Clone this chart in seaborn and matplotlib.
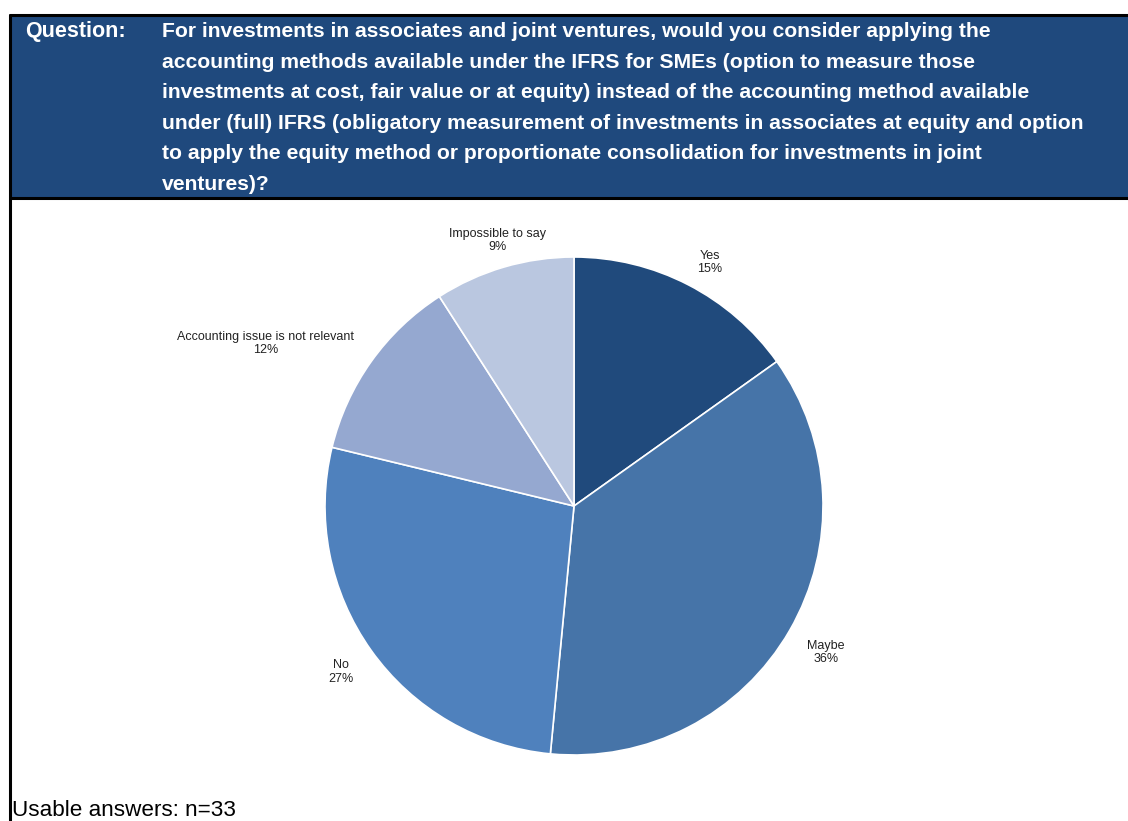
import numpy as np
import matplotlib
matplotlib.use("Agg")
import matplotlib.pyplot as plt
from matplotlib.patches import Rectangle
from matplotlib.lines import Line2D
import seaborn as sns

sns.set_theme(style="white")
plt.rcParams["font.family"] = ["Liberation Sans", "DejaVu Sans"]

# Survey answers (counts out of n=33)
categories = ["Yes", "Maybe", "No", "Accounting issue is not relevant", "Impossible to say"]
counts = [5, 12, 9, 4, 3]
colors = ["#204A7C", "#4674A8", "#4F81BD", "#95A8D0", "#BAC7E0"]
# label placement: radial distance and angular nudge (degrees) from wedge middle
label_dist = [1.12, 1.17, 1.15, 1.40, 1.11]
label_nudge = [-1.8, -0.2, 0.0, 7.7, -0.4]

question = ("For investments in associates and joint ventures, would you consider applying the\n"
            "accounting methods available under the IFRS for SMEs (option to measure those\n"
            "investments at cost, fair value or at equity) instead of the accounting method available\n"
            "under (full) IFRS (obligatory measurement of investments in associates at equity and option\n"
            "to apply the equity method or proportionate consolidation for investments in joint\n"
            "ventures)?")

W, H = 1128, 821
fig = plt.figure(figsize=(W / 100, H / 100), dpi=100)
fig.patch.set_facecolor("white")

def fx(px):
    return px / W

def fy(py):
    return 1 - py / H

# Header band
fig.patches.append(Rectangle((fx(10), fy(198)), fx(1130) - fx(10), fy(15) - fy(198),
                             transform=fig.transFigure, facecolor="#1F497D",
                             edgecolor="none", zorder=0))
border_kw = dict(transform=fig.transFigure, color="black", linewidth=2.2, zorder=1)
fig.lines.append(Line2D([fx(10), fx(1130)], [fy(15), fy(15)], **border_kw))
fig.lines.append(Line2D([fx(10), fx(1130)], [fy(198), fy(198)], **border_kw))
fig.lines.append(Line2D([fx(10), fx(10)], [fy(15), fy(825)], **border_kw))

fig.text(fx(25), fy(31), "Question:", color="white", fontsize=15.5, fontweight="bold",
         ha="left", va="center")
fig.text(fx(162), fy(22), question, color="white", fontsize=15.2, fontweight="bold",
         ha="left", va="top", linespacing=1.77)

fig.text(fx(12), fy(810), "Usable answers: n=33", color="black", fontsize=16.2,
         ha="left", va="center")

# Pie chart
cx, cy, r = 574, 506, 249
ax = fig.add_axes([fx(cx - r), fy(cy + r), 2 * r / W, 2 * r / H])
wedges, _ = ax.pie(counts, colors=colors, startangle=90, counterclock=False,
                   radius=1.0, wedgeprops=dict(edgecolor="white", linewidth=1.2))
ax.set_xlim(-1, 1)
ax.set_ylim(-1, 1)
ax.axis("off")

total = sum(counts)
for w, cat, c, d, nudge in zip(wedges, categories, counts, label_dist, label_nudge):
    ang = np.deg2rad((w.theta1 + w.theta2) / 2 + nudge)
    pct = round(100 * c / total)
    ax.text(d * np.cos(ang), d * np.sin(ang), f"{cat}\n{pct}%", ha="center", va="center",
            fontsize=9.0, color="#222222", linespacing=1.15, clip_on=False)

fig.savefig("out.png", dpi=100)
